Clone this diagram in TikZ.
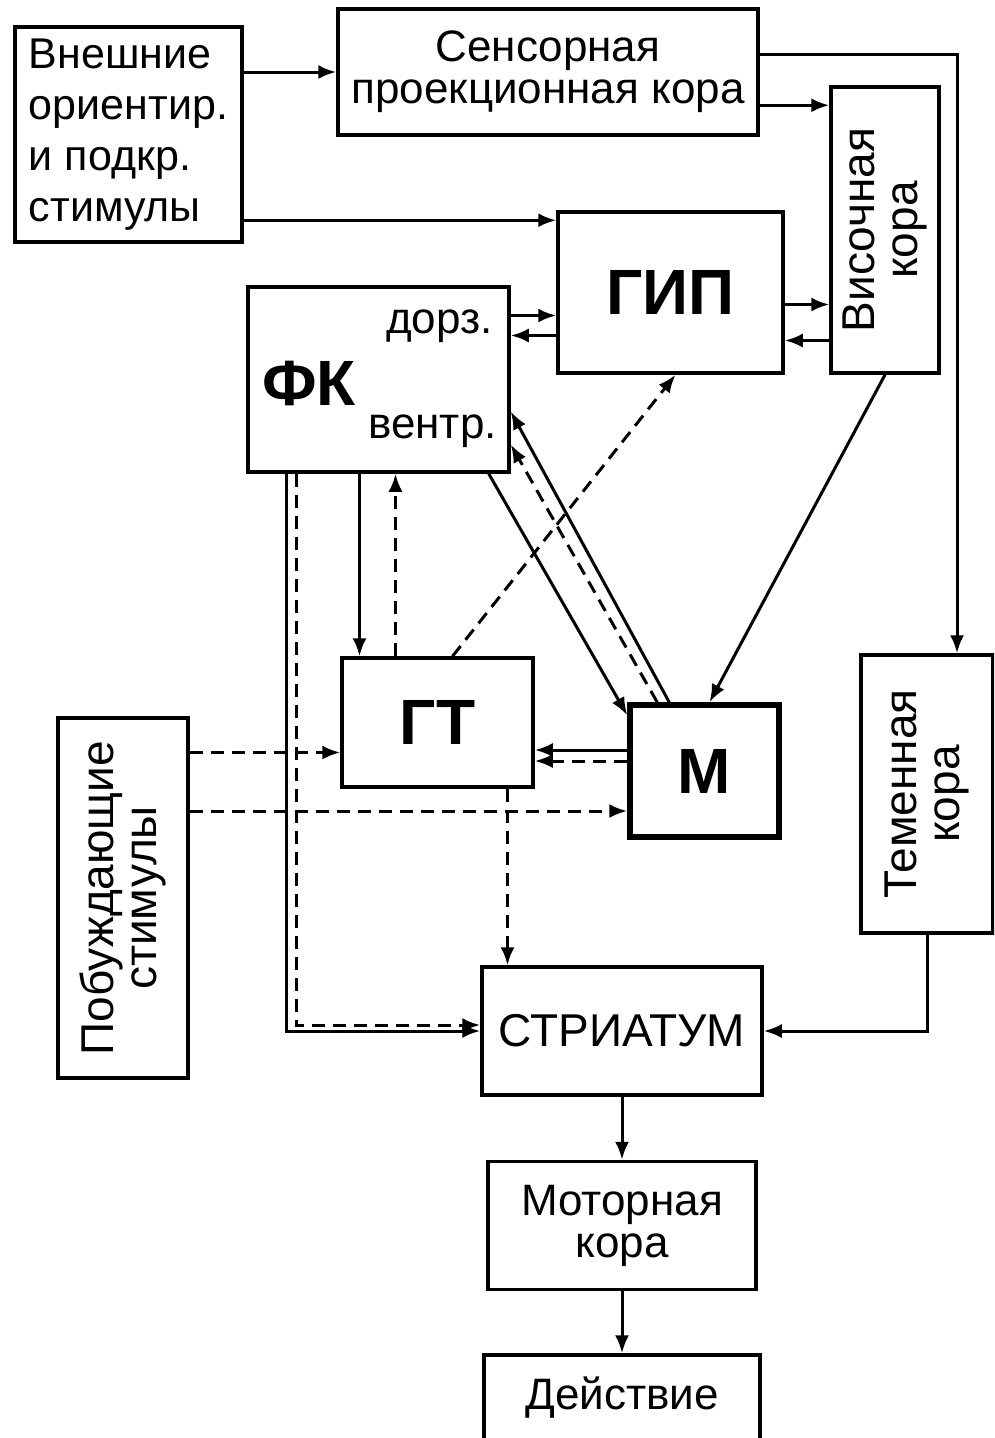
\documentclass[tikz,border=0pt]{standalone}
\usepackage{fontspec}
\setmainfont{Liberation Sans}
\usetikzlibrary{positioning,arrows.meta}
\tikzset{
    box/.style={draw, line width=3.5pt, inner sep=0pt, align=center},
    big node/.style={box, font=\fontsize{64}{64}\selectfont\bfseries},
    vert text/.style={rotate=90, align=center, font=\fontsize{46}{43}\selectfont},
    arr/.style={->, line width=3pt},
    dashed arr/.style={->, line width=3pt, dash pattern=on 13pt off 8pt}
}
\tikzstyle{side label}=[inner sep=0pt, font=\fontsize{44}{44}\selectfont]

\begin{document}
\begin{tikzpicture}[>={Latex[length=18pt,width=14pt]}, x=1pt, y=-1pt, font=\fontsize{44}{42}\selectfont]
    \clip (0,0) rectangle (994,1438);
    % boxes
    \node[box, minimum width=227pt, minimum height=215pt, align=left, font=\fontsize{43}{51}\selectfont] (ext) at (128.5,134.5) {Внешние\\ориентир.\\и подкр.\\стимулы};
    \node[box, minimum width=420pt, minimum height=126pt] (sens) at (548,72) {Сенсорная\\проекционная кора};
    \node[box, minimum width=108pt, minimum height=286pt] (vis) at (885,230) {};
    \node[vert text] (vistext) at (vis) {Височная\\кора};
    \node[big node, minimum width=225pt, minimum height=161pt] (gip) at (670.5,292.5) {ГИП};
    \node[box, minimum width=261pt, minimum height=185pt] (fk) at (378.5,379.5) {};
    \node[anchor=base west, inner sep=0pt, font=\fontsize{64}{64}\selectfont\bfseries] (fkname) at (262,405) {ФК};
    \node[side label, anchor=base east] (dorz) at (493,333) {дорз.};
    \node[side label, anchor=base east] (ventr) at (497,438) {вентр.};
    \node[big node, minimum width=191pt, minimum height=129pt] (gt) at (437.5,722.5) {ГТ};
    \node[big node, line width=5.5pt, minimum width=149pt, minimum height=132pt] (m) at (704.5,771) {М};
    \node[box, minimum width=130pt, minimum height=360pt] (pob) at (123,898) {};
    \node[vert text] (pobtext) at (pob) {Побуждающие\\стимулы};
    \node[box, minimum width=132pt, minimum height=278pt] (tem) at (927,794) {};
    \node[vert text] (temtext) at (tem) {Теменная\\кора};
    \node[box, minimum width=280pt, minimum height=128pt, font=\fontsize{46}{46}\selectfont] (str) at (622,1031) {СТРИАТУМ};
    \node[box, minimum width=268pt, minimum height=128pt, below=63pt of str] (mot) {Моторная\\кора};
    \node[box, minimum width=276pt, minimum height=86pt, below=62pt of mot] (act) {Действие};

    % connections
    \draw[arr] (ext.east |- sens.west) -- (sens.west);
    \draw[arr] ([yshift=-10pt]ext.east |- gip.north west) -- ([yshift=-10pt]gip.north west);
    \draw[arr] ([yshift=-20pt]sens.east |- vis.north west) -- ([yshift=-20pt]vis.north west);
    \draw[arr] ([yshift=18pt]sens.east) -| ([xshift=30pt]tem.north);
    \draw[arr] ([yshift=-12pt]gip.east) -- ([yshift=-12pt]gip.east -| vis.west);
    \draw[arr] ([yshift=-48pt]gip.east -| vis.west) -- ([yshift=-48pt]gip.east);
    \draw[arr] ([yshift=64pt]fk.east) -- ([yshift=64pt]fk.east -| gip.west);
    \draw[arr] ([yshift=44pt]fk.east -| gip.west) -- ([yshift=44pt]fk.east);
    \draw[arr] (vis.south) -- ([xshift=5pt]m.north);
    \draw[arr] ([xshift=-22pt]fk.south east) -- ([yshift=-13pt]m.north west);
    \draw[arr] ([xshift=42pt]m.north west) -- ([yshift=-32pt]fk.east);
    \draw[dashed arr] ([xshift=30pt]m.north west) -- ([yshift=-65pt]fk.east);
    \draw[arr] ([xshift=-78pt]gt.north |- fk.south) -- ([xshift=-78pt]gt.north);
    \draw[dashed arr] ([xshift=-42pt]gt.north) -- ([xshift=-42pt]gt.north |- fk.south);
    \draw[dashed arr] ([xshift=15pt]gt.north) -- ([xshift=5pt]gip.south);
    \draw[dashed arr] ([yshift=-30pt]gt.west -| pob.east) -- ([yshift=-30pt]gt.west);
    \draw[dashed arr] ([yshift=-40pt]m.west -| pob.east) -- ([yshift=-40pt]m.west);
    \draw[arr] ([yshift=21pt]m.west) -- ([yshift=21pt]m.west -| gt.east);
    \draw[dashed arr] ([yshift=10pt]m.west) -- ([yshift=10pt]m.west -| gt.east);
    \draw[dashed arr] ([xshift=70pt]gt.south) -- ([xshift=70pt]gt.south |- str.north);
    \draw[arr] ([xshift=40pt]fk.south west) |- (str.west);
    \draw[dashed arr] ([xshift=50pt]fk.south west) |- ([yshift=6pt]str.west);
    \draw[arr] (tem.south) |- (str.east);
    \draw[arr] (str.south) -- (mot.north);
    \draw[arr] (mot.south) -- (mot.south |- act.north);
\end{tikzpicture}
\end{document}
